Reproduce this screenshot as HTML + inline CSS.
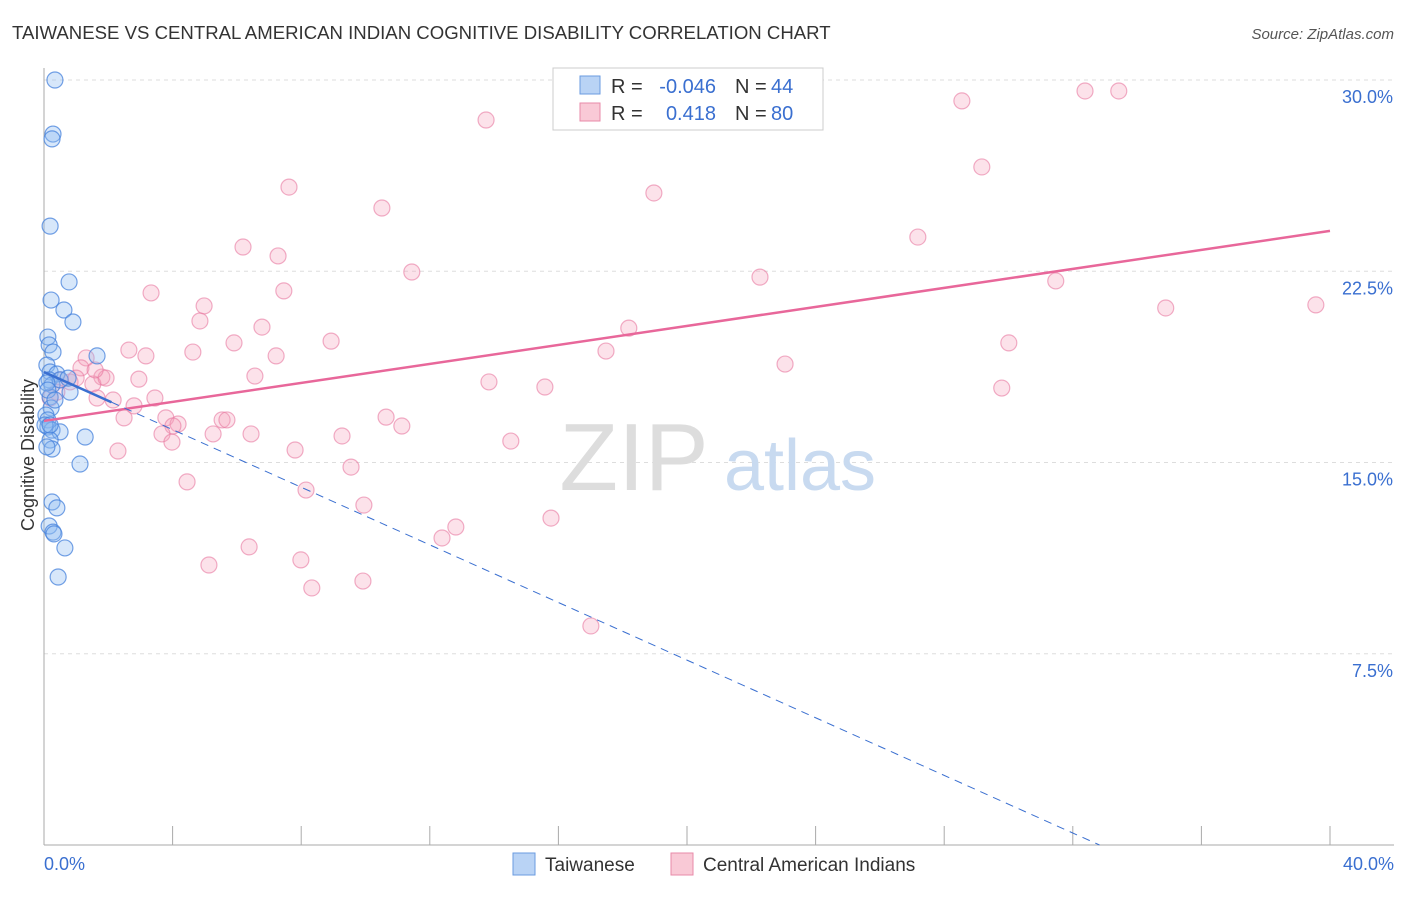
<!DOCTYPE html>
<html><head><meta charset="utf-8"><style>
body{margin:0;background:#fff;font-family:"Liberation Sans",sans-serif;}
svg text{font-family:"Liberation Sans",sans-serif;}
</style></head><body>
<svg id="chart" width="1406" height="892">
<text x="12" y="39" font-size="18.6" fill="#333">TAIWANESE VS CENTRAL AMERICAN INDIAN COGNITIVE DISABILITY CORRELATION CHART</text>
<text x="1394" y="39" font-size="15" fill="#555" font-style="italic" text-anchor="end">Source: ZipAtlas.com</text>
<text transform="translate(34,455) rotate(-90)" font-size="18" fill="#333" text-anchor="middle">Cognitive Disability</text>
<g id="grid"></g>
<g id="wm">
<text x="634" y="490" font-size="96" fill="#ddd" font-family="Liberation Serif" text-anchor="middle">ZIP</text>
<text x="800" y="490" font-size="72" fill="#c8daf0" text-anchor="middle">atlas</text></g>
<g id="axes"></g>
<g id="pts"></g>
<g id="lines"></g>
<g>
<rect x="553" y="68" width="270" height="62" fill="#fff" stroke="#ccc"/>
<rect x="580" y="76" width="20" height="18" fill="#b9d3f5" stroke="#6a9be0"/>
<rect x="580" y="103" width="20" height="18" fill="#f9c9d6" stroke="#e88aa8"/>
<text x="611" y="93" font-size="20" fill="#333">R =</text>
<text x="716" y="93" font-size="20" fill="#3a6fd0" text-anchor="end">-0.046</text>
<text x="735" y="93" font-size="20" fill="#333">N =</text>
<text x="771" y="93" font-size="20" fill="#3a6fd0">44</text>
<text x="611" y="120" font-size="20" fill="#333">R =</text>
<text x="716" y="120" font-size="20" fill="#3a6fd0" text-anchor="end">0.418</text>
<text x="735" y="120" font-size="20" fill="#333">N =</text>
<text x="771" y="120" font-size="20" fill="#3a6fd0">80</text>
</g>
<g>
<rect x="513" y="853" width="22" height="22" fill="#b9d3f5" stroke="#6a9be0"/>
<text x="545" y="871" font-size="19" fill="#333">Taiwanese</text>
<rect x="671" y="853" width="22" height="22" fill="#f9c9d6" stroke="#e88aa8"/>
<text x="703" y="871" font-size="19" fill="#333">Central American Indians</text>
</g>
</svg>
<script>
const blueX=[0.34,0.28,0.25,0.19,0.78,0.22,0.62,0.90,0.12,0.16,0.28,1.65,0.09,0.19,0.40,0.16,0.25,0.50,0.81,0.19,0.22,0.06,0.12,0.12,0.25,0.50,1.28,0.19,0.25,1.12,0.25,0.40,0.16,0.28,0.31,0.65,0.44,0.09,0.12,0.34,0.03,0.19,0.09,0.75];
const blueY=[30.0,27.88,27.69,24.27,22.08,21.37,20.98,20.51,19.92,19.61,19.33,19.18,18.82,18.55,18.47,18.24,18.04,18.24,17.76,17.57,17.14,16.86,16.67,16.39,16.27,16.2,16.0,15.88,15.53,14.94,13.45,13.22,12.51,12.27,12.2,11.65,10.51,18.12,17.84,17.45,16.47,16.47,15.61,18.31];
const pinkX=[32.38,33.43,28.55,13.75,29.17,7.62,18.97,10.51,27.18,6.19,7.28,11.44,22.27,31.47,3.33,7.46,4.98,39.56,34.89,4.85,6.78,18.19,5.91,8.93,30.01,2.64,3.17,4.63,17.48,7.22,1.31,23.05,1.15,6.56,1.80,13.84,29.79,2.95,15.58,1.52,0.50,0.81,1.93,1.00,1.65,2.15,3.45,2.80,2.49,10.64,3.79,5.54,5.69,11.13,4.17,4.01,3.67,5.26,6.44,9.27,3.98,14.52,2.30,7.81,9.55,4.45,8.15,9.95,15.77,12.81,12.38,6.38,7.99,5.13,8.33,9.92,17.01,0.40,0.19,1.59];
const pinkY=[29.57,29.57,29.18,28.43,26.59,25.8,25.57,24.98,23.84,23.45,23.1,22.47,22.27,22.12,21.65,21.73,21.14,21.18,21.06,20.55,20.31,20.27,19.69,19.76,19.69,19.41,19.18,19.33,19.37,19.18,19.1,18.86,18.71,18.39,18.35,18.16,17.92,18.27,17.96,18.08,18.24,18.16,18.31,18.31,17.53,17.45,17.53,17.22,16.75,16.78,16.75,16.67,16.67,16.43,16.51,16.43,16.12,16.12,16.12,16.04,15.8,15.84,15.45,15.49,14.82,14.24,13.92,13.33,12.82,12.47,12.04,11.69,11.18,10.98,10.08,10.35,8.59,17.76,17.53,18.63];
const yTicks=[7.5,15.0,22.5,30.0];
const xTickLabels=["0.0%","40.0%"];
const blueTrend=[18.55,-0.565];
const pinkTrend=[16.63,0.1863];
const NS="http://www.w3.org/2000/svg";
const X=v=>44+v/40*1286, Y=v=>845-v/30*765;
function mk(t,a,p){const e=document.createElementNS(NS,t);for(const k in a)e.setAttribute(k,a[k]);p.appendChild(e);return e;}
const grid=document.getElementById('grid'),axes=document.getElementById('axes');
yTicks.forEach(t=>{
 const l=mk('line',{x1:44,x2:1394,y1:Y(t),y2:Y(t),stroke:'#ddd','stroke-dasharray':'4,4'},grid);
 
 
 const tx=mk('text',{x:1393,y:Y(t)+23,'font-size':18,fill:'#3a6fd0','text-anchor':'end'},axes);
 tx.textContent=t.toFixed(1)+'%';
 
 
});
mk('line',{x1:44,x2:44,y1:68,y2:845,stroke:'#aaa'},axes);
mk('line',{x1:44,x2:1394,y1:845,y2:845,stroke:'#aaa'},axes);
for(let i=0;i<=10;i++){mk('line',{x1:X(i*4),x2:X(i*4),y1:826,y2:845,stroke:'#aaa'},axes);}
[[0,'start',44],[40,'end',1394]].forEach((d,i)=>{const t=mk('text',{x:d[2],y:870,'font-size':18,fill:'#3a6fd0','text-anchor':d[1]},axes);t.textContent=xTickLabels[i];
 
 });
const pts=document.getElementById('pts');
pinkX.forEach((x,i)=>{const c=mk('circle',{cx:X(x),cy:Y(pinkY[i]),r:8,fill:'rgba(244,160,186,0.3)',stroke:'rgba(232,120,160,0.6)','stroke-width':1.2},pts);
 
 });
blueX.forEach((x,i)=>{const c=mk('circle',{cx:X(x),cy:Y(blueY[i]),r:8,fill:'rgba(140,185,240,0.35)',stroke:'rgba(70,130,220,0.75)','stroke-width':1.2},pts);
 
 });
const ln=document.getElementById('lines');
const pl=mk('line',{x1:X(0),y1:Y(pinkTrend[0]),x2:X(40),y2:Y(pinkTrend[0]+pinkTrend[1]*40),stroke:'#e8679a','stroke-width':2.5},ln);


const bs=mk('line',{x1:X(0),y1:Y(blueTrend[0]),x2:X(2.1),y2:Y(blueTrend[0]+blueTrend[1]*2.1),stroke:'#3a6fd0','stroke-width':2.5},ln);


const xe=-blueTrend[0]/blueTrend[1];
const bd=mk('line',{x1:X(2.1),y1:Y(blueTrend[0]+blueTrend[1]*2.1),x2:X(xe),y2:Y(0),stroke:'#3a6fd0','stroke-width':1,'stroke-dasharray':'8,6'},ln);


</script>
</body></html>
